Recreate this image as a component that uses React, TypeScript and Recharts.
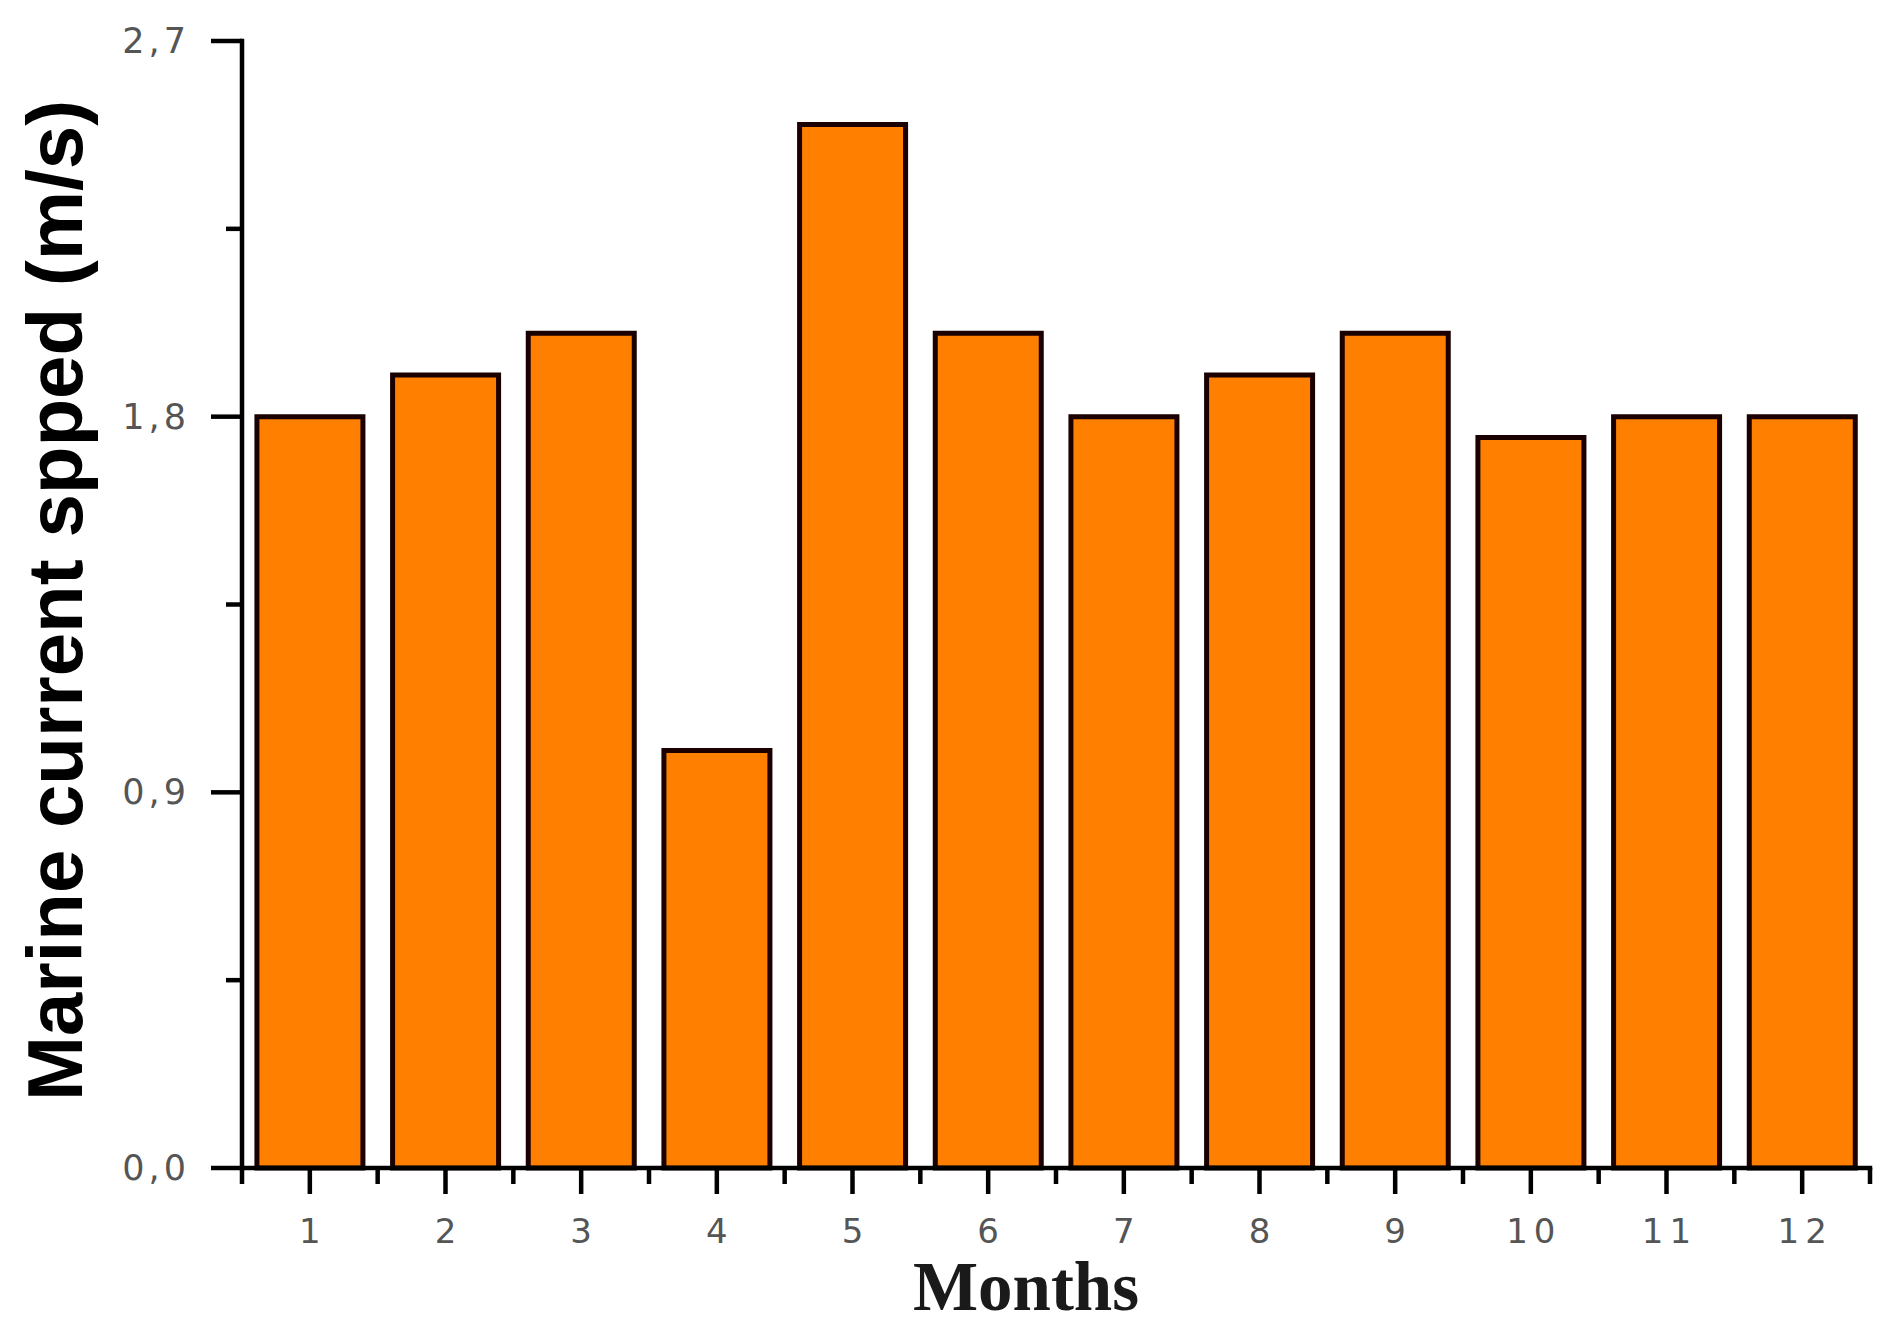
import { BarChart, Bar, XAxis, YAxis } from "recharts";

const months = ["1", "2", "3", "4", "5", "6", "7", "8", "9", "10", "11", "12"];
const speeds = [1.8, 1.9, 2.0, 1.0, 2.5, 2.0, 1.8, 1.9, 2.0, 1.75, 1.8, 1.8];
const yTicks = [0, 0.45, 0.9, 1.35, 1.8, 2.25, 2.7];
const yMajor = [0, 0.9, 1.8, 2.7];

const data = months.map((m, i) => ({ month: m, speed: speeds[i] }));

const labelFont = "'DejaVu Sans', Verdana, sans-serif";
const lineW = 4.5;

function YTick(props: any) {
  const { x, y, payload } = props;
  const major = yMajor.includes(payload.value);
  const len = major ? 31 : 16;
  return (
    <g>
      <line x1={x} y1={y} x2={x - len} y2={y} stroke="#000" strokeWidth={lineW} />
      {major && (
        <text
          x={x - 52}
          y={y}
          textAnchor="end"
          dominantBaseline="central"
          fontFamily={labelFont}
          fontSize={35}
          letterSpacing={4}
          fill="#555"
        >
          {payload.value.toFixed(1).replace(".", ",")}
        </text>
      )}
    </g>
  );
}

function XTick(props: any) {
  const { x, y, payload, index } = props;
  const half = payload.offset || 0;
  return (
    <g>
      <line x1={x} y1={y} x2={x} y2={y + 26} stroke="#000" strokeWidth={lineW} />
      <line x1={x - half} y1={y} x2={x - half} y2={y + 16} stroke="#000" strokeWidth={lineW} />
      {index === months.length - 1 && (
        <line x1={x + half} y1={y} x2={x + half} y2={y + 16} stroke="#000" strokeWidth={lineW} />
      )}
      <text
        x={x + 3}
        y={y + 75}
        textAnchor="middle"
        fontFamily={labelFont}
        fontSize={34}
        letterSpacing={6}
        fill="#555"
      >
        {payload.value}
      </text>
    </g>
  );
}

function YTitle(props: any) {
  const vb = props.viewBox || { x: 0, y: 41, height: 1127 };
  const cx = vb.x + 55;
  const cy = vb.y + vb.height / 2 - 4;
  return (
    <text
      x={cx}
      y={cy}
      transform={`rotate(-90 ${cx} ${cy})`}
      textAnchor="middle"
      dominantBaseline="central"
      fontFamily="'Liberation Sans', Arial, sans-serif"
      fontWeight="bold"
      fontSize={78}
      fill="#000"
    >
      Marine current spped (m/s)
    </text>
  );
}

function XTitle(props: any) {
  const vb = props.viewBox || { x: 242, y: 1168, width: 1628 };
  const cx = vb.x + vb.width / 2 - 30;
  return (
    <text
      x={cx}
      y={vb.y + 142}
      textAnchor="middle"
      fontFamily="'Liberation Serif', 'Times New Roman', serif"
      fontWeight="bold"
      fontSize={69}
      fill="#1a1a1a"
    >
      Months
    </text>
  );
}

export default function App() {
  return (
    <div style={{ position: "absolute", left: 0, top: 0, width: 1902, height: 1339, background: "#fff" }}>
      <BarChart
        width={1902}
        height={1339}
        data={data}
        margin={{ top: 41, right: 32, left: 0, bottom: 0 }}
        barCategoryGap="11%"
      >
        <XAxis
          dataKey="month"
          height={171}
          interval={0}
          tickSize={0}
          tickMargin={0}
          tickLine={false}
          axisLine={{ stroke: "#000", strokeWidth: lineW, strokeLinecap: "square" }}
          tick={<XTick />}
          label={{ content: <XTitle /> }}
        />
        <XAxis
          xAxisId="top"
          dataKey="month"
          orientation="top"
          height={0}
          tick={false}
          tickLine={false}
          axisLine={{ stroke: "#000", strokeWidth: lineW, strokeLinecap: "square" }}
        />
        <YAxis
          width={242}
          domain={[0, 2.7]}
          ticks={yTicks}
          interval={0}
          tickSize={0}
          tickMargin={0}
          tickLine={false}
          axisLine={{ stroke: "#000", strokeWidth: lineW, strokeLinecap: "square" }}
          tick={<YTick />}
          label={{ content: <YTitle /> }}
        />
        <YAxis
          yAxisId="right"
          orientation="right"
          width={0}
          domain={[0, 2.7]}
          tick={false}
          tickLine={false}
          axisLine={{ stroke: "#000", strokeWidth: lineW, strokeLinecap: "square" }}
        />
        <Bar
          dataKey="speed"
          fill="#ff8000"
          stroke="#1a0000"
          strokeWidth={5}
          isAnimationActive={false}
        />
      </BarChart>
    </div>
  );
}
